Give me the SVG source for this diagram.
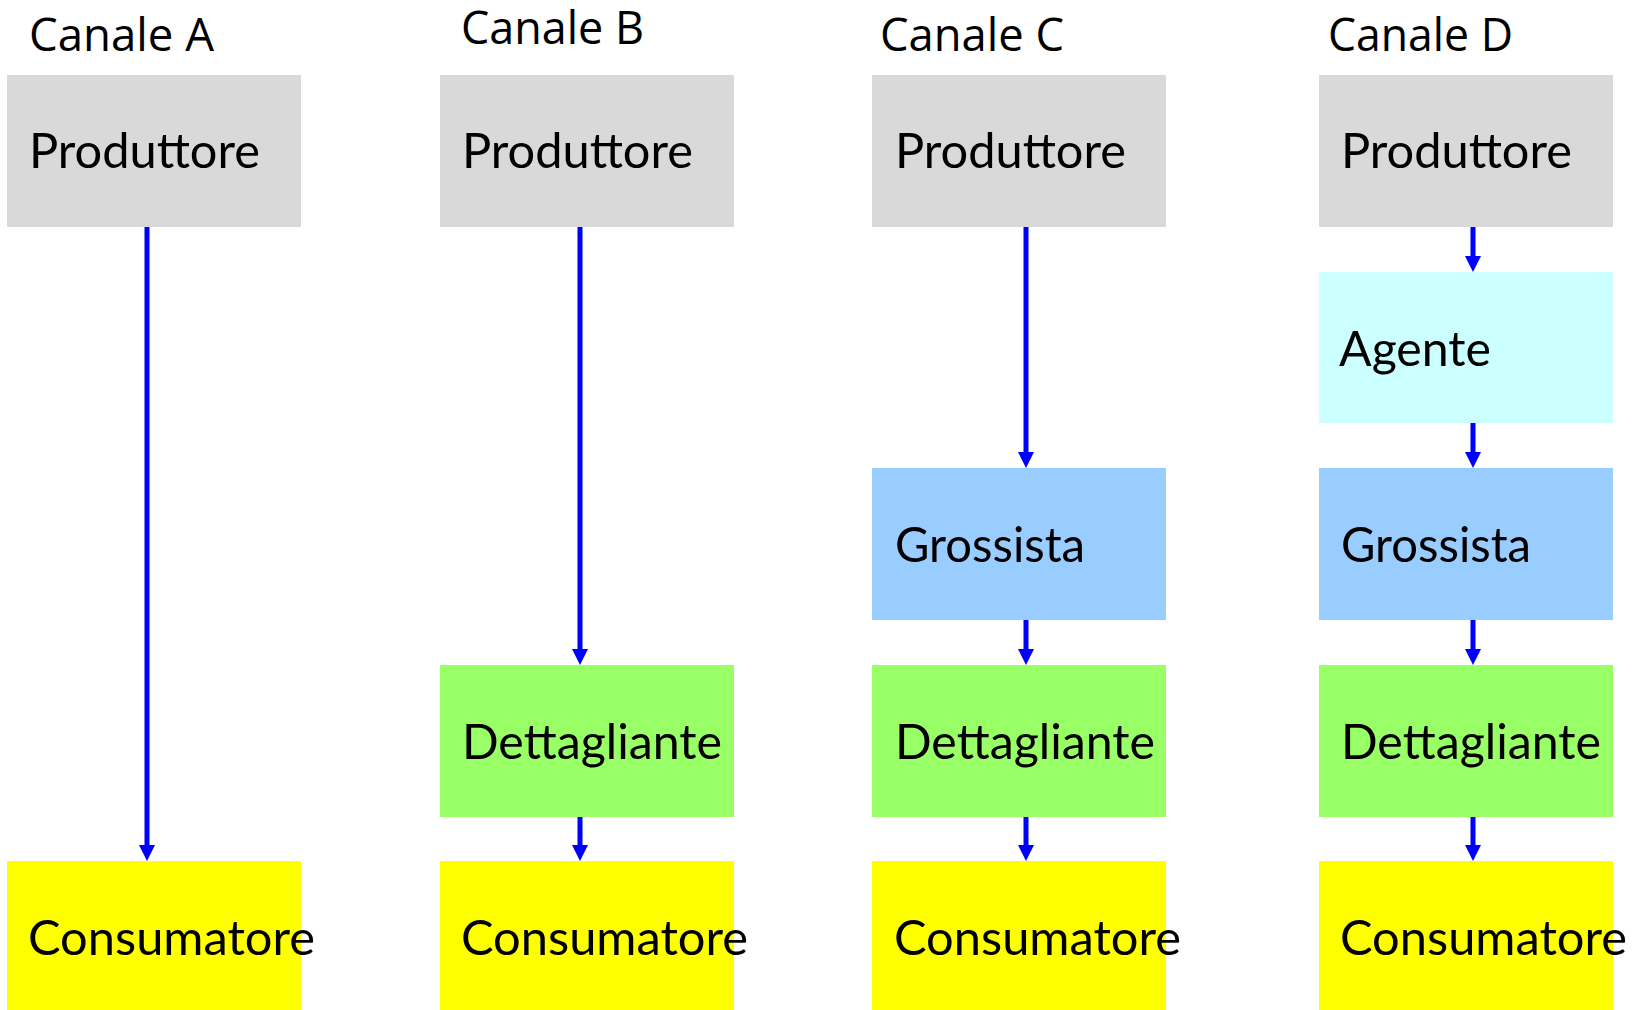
<svg xmlns="http://www.w3.org/2000/svg" width="1646" height="1010" viewBox="0 0 1646 1010">
  <style>
    .title { font-family: "Open Sans", Lato, "Liberation Sans", sans-serif; font-size: 45px; fill: #000; }
    .label { font-family: Lato, "Open Sans", "Liberation Sans", sans-serif; font-size: 49px; fill: #000; }
    .prod { fill: #D9D9D9; }
    .agent { fill: #CCFFFF; }
    .whole { fill: #99CCFF; }
    .retail { fill: #99FF66; }
    .cons { fill: #FFFF00; }
    .flow { stroke: #0000FF; stroke-width: 5; fill: none; marker-end: url(#head); }
  </style>
  <defs>
    <marker id="head" markerUnits="userSpaceOnUse" markerWidth="16" markerHeight="16" refX="1" refY="8" orient="auto">
      <path d="M0,0 L16,8 L0,16 z" fill="#0000FF"/>
    </marker>
  </defs>
  <rect width="1646" height="1010" fill="#fff"/>

  <!-- channel titles -->
  <g id="titles">
    <text class="title" x="29" y="51" textLength="185" lengthAdjust="spacingAndGlyphs">Canale A</text>
    <text class="title" x="461" y="44" textLength="183" lengthAdjust="spacingAndGlyphs">Canale B</text>
    <text class="title" x="880" y="51" textLength="184" lengthAdjust="spacingAndGlyphs">Canale C</text>
    <text class="title" x="1328" y="51" textLength="185" lengthAdjust="spacingAndGlyphs">Canale D</text>
  </g>

  <!-- Canale A -->
  <g id="a-produttore"><rect class="prod" x="7" y="75" width="294" height="152"/><text class="label" x="29" y="168" textLength="231" lengthAdjust="spacingAndGlyphs">Produttore</text></g>
  <g id="a-consumatore"><rect class="cons" x="7" y="861" width="294" height="152"/><text class="label" x="28" y="955" textLength="287" lengthAdjust="spacingAndGlyphs">Consumatore</text></g>

  <!-- Canale B -->
  <g id="b-produttore"><rect class="prod" x="440" y="75" width="294" height="152"/><text class="label" x="462" y="168" textLength="231" lengthAdjust="spacingAndGlyphs">Produttore</text></g>
  <g id="b-dettagliante"><rect class="retail" x="440" y="665" width="294" height="152"/><text class="label" x="462" y="759" textLength="260" lengthAdjust="spacingAndGlyphs">Dettagliante</text></g>
  <g id="b-consumatore"><rect class="cons" x="440" y="861" width="294" height="152"/><text class="label" x="461" y="955" textLength="287" lengthAdjust="spacingAndGlyphs">Consumatore</text></g>

  <!-- Canale C -->
  <g id="c-produttore"><rect class="prod" x="872" y="75" width="294" height="152"/><text class="label" x="895" y="168" textLength="231" lengthAdjust="spacingAndGlyphs">Produttore</text></g>
  <g id="c-grossista"><rect class="whole" x="872" y="468" width="294" height="152"/><text class="label" x="895" y="562" textLength="190" lengthAdjust="spacingAndGlyphs">Grossista</text></g>
  <g id="c-dettagliante"><rect class="retail" x="872" y="665" width="294" height="152"/><text class="label" x="895" y="759" textLength="260" lengthAdjust="spacingAndGlyphs">Dettagliante</text></g>
  <g id="c-consumatore"><rect class="cons" x="872" y="861" width="294" height="152"/><text class="label" x="894" y="955" textLength="287" lengthAdjust="spacingAndGlyphs">Consumatore</text></g>

  <!-- Canale D -->
  <g id="d-produttore"><rect class="prod" x="1319" y="75" width="294" height="152"/><text class="label" x="1341" y="168" textLength="231" lengthAdjust="spacingAndGlyphs">Produttore</text></g>
  <g id="d-agente"><rect class="agent" x="1319" y="272" width="294" height="151"/><text class="label" x="1339" y="366" textLength="152" lengthAdjust="spacingAndGlyphs">Agente</text></g>
  <g id="d-grossista"><rect class="whole" x="1319" y="468" width="294" height="152"/><text class="label" x="1341" y="562" textLength="190" lengthAdjust="spacingAndGlyphs">Grossista</text></g>
  <g id="d-dettagliante"><rect class="retail" x="1319" y="665" width="294" height="152"/><text class="label" x="1341" y="759" textLength="260" lengthAdjust="spacingAndGlyphs">Dettagliante</text></g>
  <g id="d-consumatore"><rect class="cons" x="1319" y="861" width="294" height="152"/><text class="label" x="1340" y="955" textLength="287" lengthAdjust="spacingAndGlyphs">Consumatore</text></g>

  <!-- connectors -->
  <g id="connectors">
    <line class="flow" x1="147" y1="227" x2="147" y2="846"/>

    <line class="flow" x1="580" y1="227" x2="580" y2="650"/>
    <line class="flow" x1="580" y1="817" x2="580" y2="846"/>

    <line class="flow" x1="1026" y1="227" x2="1026" y2="453"/>
    <line class="flow" x1="1026" y1="620" x2="1026" y2="650"/>
    <line class="flow" x1="1026" y1="817" x2="1026" y2="846"/>

    <line class="flow" x1="1473" y1="227" x2="1473" y2="257"/>
    <line class="flow" x1="1473" y1="423" x2="1473" y2="453"/>
    <line class="flow" x1="1473" y1="620" x2="1473" y2="650"/>
    <line class="flow" x1="1473" y1="817" x2="1473" y2="846"/>
  </g>
</svg>
